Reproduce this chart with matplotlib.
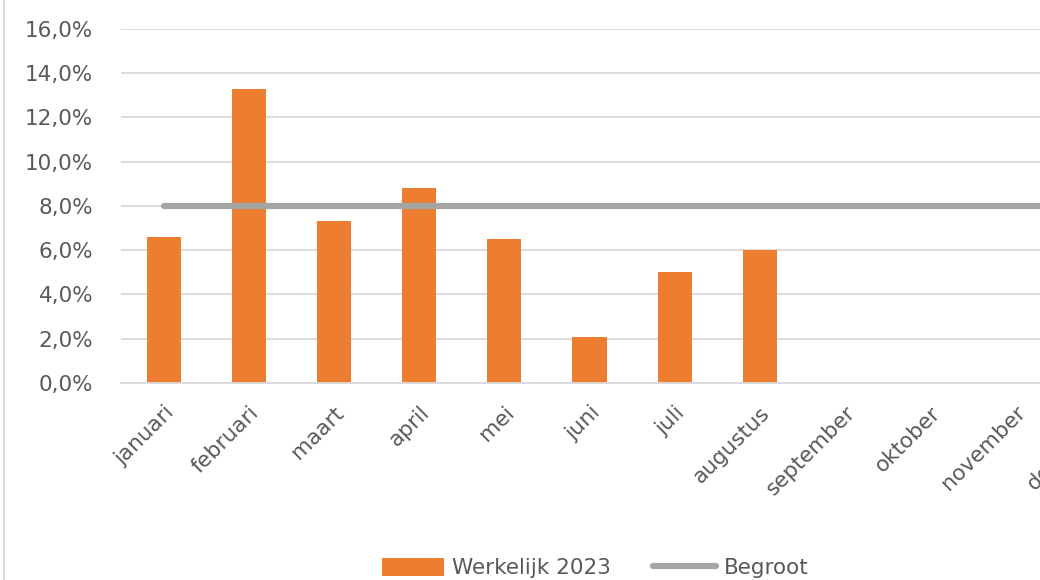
import matplotlib.pyplot as plt
from matplotlib.lines import Line2D
from matplotlib.ticker import FuncFormatter

# data (percentages)
maanden = ['januari', 'februari', 'maart', 'april', 'mei', 'juni', 'juli',
           'augustus', 'september', 'oktober', 'november', 'december']
werkelijk_2023 = [6.6, 13.3, 7.3, 8.8, 6.5, 2.1, 5.0, 6.0]
begroot = [8.0] * 12
y_ticks = [0, 2, 4, 6, 8, 10, 12, 14, 16]

plt.rcParams['font.family'] = ['DejaVu Sans']
tekst_kleur = '#595959'
fs = 15.5

fig = plt.figure(figsize=(10.4, 5.8), dpi=100)
# the original chart is cut off on the right, so the axes run past the figure edge
ax = fig.add_axes([0.1163, 0.3397, 0.983, 0.6103])

x = list(range(len(maanden)))
ax.bar(x[:len(werkelijk_2023)], werkelijk_2023, width=0.4, color='#ED7D31',
       label='Werkelijk 2023', zorder=2)
ax.plot(x, begroot, color='#A5A5A5', linewidth=4.5, solid_capstyle='round',
        label='Begroot', zorder=3)

ax.set_xlim(-0.5, len(maanden) - 0.5)
ax.set_ylim(0, 16)
ax.set_yticks(y_ticks)
ax.yaxis.set_major_formatter(FuncFormatter(lambda v, p: f'{v:.1f}%'.replace('.', ',')))
ax.grid(axis='y', color='#D9D9D9', linewidth=1.3, zorder=0)
for s in ['top', 'right', 'left']:
    ax.spines[s].set_visible(False)
ax.spines['bottom'].set_color('#D9D9D9')
ax.spines['bottom'].set_linewidth(1.3)

ax.tick_params(axis='y', length=0, pad=20, labelsize=fs, labelcolor=tekst_kleur)
ax.tick_params(axis='x', length=0, pad=14, labelsize=fs, labelcolor=tekst_kleur)
ax.set_xticks(x)
ax.set_xticklabels(maanden, rotation=45, ha='right', rotation_mode='anchor')

# chart border on the left
fig.add_artist(Line2D([0.004, 0.004], [0, 1], color='#D9D9D9', linewidth=1.5))

# legend: bars first, then the budget line
handles, labels = ax.get_legend_handles_labels()
order = [1, 0]
fig.legend([handles[i] for i in order], [labels[i] for i in order],
           loc='center', bbox_to_anchor=(0.572, 0.021), ncol=2, frameon=False,
           fontsize=fs, labelcolor=tekst_kleur, handlelength=2.9, handleheight=0.9,
           handletextpad=0.35, columnspacing=2.0)

fig.savefig('out.png', dpi=100)
